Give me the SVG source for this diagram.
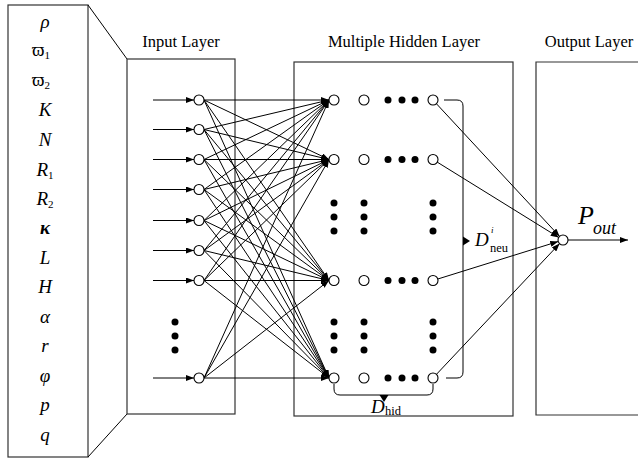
<svg xmlns="http://www.w3.org/2000/svg" width="638" height="466" viewBox="0 0 638 466">
<style>
.box{fill:none;stroke:#333;stroke-width:1.2}
.ln{stroke:#000;stroke-width:1;fill:none}
.nd{fill:#fff;stroke:#000;stroke-width:1.1}
.dt{fill:#000}
.t{font-family:"Liberation Serif","Times New Roman",serif;font-size:16.5px;fill:#000}
.m{font-family:"Liberation Serif","Times New Roman",serif;font-style:italic;font-size:19px;fill:#000}
.u{font-family:"Liberation Serif","Times New Roman",serif;font-size:19px;fill:#000}
.s{font-family:"Liberation Serif","Times New Roman",serif;font-size:11px;font-style:normal;fill:#000}
</style>
<defs>
<marker id="ah" markerWidth="8" markerHeight="6" refX="8" refY="3" orient="auto" markerUnits="userSpaceOnUse"><path d="M0,0 L8,3 L0,6 z" fill="#000"/></marker>
</defs>
<rect width="638" height="466" fill="#fff"/>

<g id="params">
<rect class="box" x="8" y="5" width="80" height="452"/>
<line class="ln" x1="88" y1="5" x2="127" y2="59"/>
<line class="ln" x1="88" y1="457" x2="127" y2="414"/>
<text class="m" x="45" y="28" text-anchor="middle">ρ</text>
<text class="u" x="41" y="56" text-anchor="middle">ϖ<tspan class="s" dy="3">1</tspan></text>
<text class="u" x="41" y="86" text-anchor="middle">ϖ<tspan class="s" dy="3">2</tspan></text>
<text class="m" x="45" y="116" text-anchor="middle">K</text>
<text class="m" x="45" y="146" text-anchor="middle">N</text>
<text class="m" x="45" y="176" text-anchor="middle">R<tspan class="s" dy="3">1</tspan></text>
<text class="m" x="45" y="205" text-anchor="middle">R<tspan class="s" dy="3">2</tspan></text>
<text class="m" x="45" y="234" text-anchor="middle" style="font-weight:bold">κ</text>
<text class="m" x="45" y="264" text-anchor="middle">L</text>
<text class="m" x="45" y="293" text-anchor="middle">H</text>
<text class="m" x="45" y="323" text-anchor="middle">α</text>
<text class="m" x="45" y="352" text-anchor="middle">r</text>
<text class="m" x="45" y="382" text-anchor="middle">φ</text>
<text class="m" x="45" y="411" text-anchor="middle">p</text>
<text class="m" x="45" y="441" text-anchor="middle">q</text>
</g>

<g id="input-layer">
<rect class="box" x="127" y="59" width="108" height="355"/>
<text class="t" x="181" y="47" text-anchor="middle">Input Layer</text>
<circle class="dt" cx="175" cy="322" r="3.5"/>
<circle class="dt" cx="175" cy="336" r="3.5"/>
<circle class="dt" cx="175" cy="350" r="3.5"/>
</g>

<g id="hidden-layer">
<rect class="box" x="294" y="62" width="219" height="354"/>
<text class="t" x="404" y="47" text-anchor="middle">Multiple Hidden Layer</text>
<g class="dt">
<circle cx="388" cy="100" r="3.5"/><circle cx="402" cy="100" r="3.5"/><circle cx="415" cy="100" r="3.5"/>
<circle cx="388" cy="159.5" r="3.5"/><circle cx="402" cy="159.5" r="3.5"/><circle cx="415" cy="159.5" r="3.5"/>
<circle cx="388" cy="280.5" r="3.5"/><circle cx="402" cy="280.5" r="3.5"/><circle cx="415" cy="280.5" r="3.5"/>
<circle cx="388" cy="378" r="3.5"/><circle cx="402" cy="378" r="3.5"/><circle cx="415" cy="378" r="3.5"/>
<circle cx="334" cy="203" r="3.5"/><circle cx="334" cy="217" r="3.5"/><circle cx="334" cy="231" r="3.5"/>
<circle cx="364" cy="203" r="3.5"/><circle cx="364" cy="217" r="3.5"/><circle cx="364" cy="231" r="3.5"/>
<circle cx="433" cy="203" r="3.5"/><circle cx="433" cy="217" r="3.5"/><circle cx="433" cy="231" r="3.5"/>
<circle cx="334" cy="322" r="3.5"/><circle cx="334" cy="336" r="3.5"/><circle cx="334" cy="350" r="3.5"/>
<circle cx="364" cy="322" r="3.5"/><circle cx="364" cy="336" r="3.5"/><circle cx="364" cy="350" r="3.5"/>
<circle cx="433" cy="322" r="3.5"/><circle cx="433" cy="336" r="3.5"/><circle cx="433" cy="350" r="3.5"/>
</g>
<path class="ln" d="M444,100 H457 Q463,100 463,106 V372 Q463,378 457,378 H446"/>
<path d="M463,236.5 L470,241 L463,245.5 z" fill="#000"/>
<text class="m" x="475" y="246">D</text>
<text class="s" x="491" y="233" style="font-style:italic;font-size:9px">i</text>
<text class="s" x="490" y="252" style="font-size:12.5px">neu</text>
<path class="ln" d="M334,384 V389 Q334,395 340,395 H427 Q433,395 433,389 V384"/>
<path d="M379.5,395 L384,402 L388.5,395 z" fill="#000"/>
<text class="m" x="371" y="413">D</text>
<text class="s" x="385" y="415" style="font-size:12.5px">hid</text>
</g>

<g id="output-layer">
<path class="box" d="M640,62 H536 V415 H640"/>
<text class="t" x="589" y="47" text-anchor="middle">Output Layer</text>
<text class="m" x="578" y="224" style="font-size:26px">P</text>
<text class="m" x="593" y="234" style="font-size:18px">out</text>
</g>

<g id="connectors" class="ln" marker-end="url(#ah)">
<line x1="153" y1="100" x2="194" y2="100"/>
<line x1="153" y1="129.5" x2="194" y2="129.5"/>
<line x1="153" y1="159.5" x2="194" y2="159.5"/>
<line x1="153" y1="189.5" x2="194" y2="189.5"/>
<line x1="153" y1="220.5" x2="194" y2="220.5"/>
<line x1="153" y1="250.5" x2="194" y2="250.5"/>
<line x1="153" y1="280.5" x2="194" y2="280.5"/>
<line x1="153" y1="378" x2="194" y2="378"/>

<line x1="204" y1="100" x2="329" y2="100"/>
<line x1="204" y1="100" x2="329" y2="159.5"/>
<line x1="204" y1="100" x2="329" y2="280.5"/>
<line x1="204" y1="100" x2="329" y2="378"/>
<line x1="204" y1="129.5" x2="329" y2="100"/>
<line x1="204" y1="129.5" x2="329" y2="159.5"/>
<line x1="204" y1="129.5" x2="329" y2="280.5"/>
<line x1="204" y1="129.5" x2="329" y2="378"/>
<line x1="204" y1="159.5" x2="329" y2="100"/>
<line x1="204" y1="159.5" x2="329" y2="159.5"/>
<line x1="204" y1="159.5" x2="329" y2="280.5"/>
<line x1="204" y1="159.5" x2="329" y2="378"/>
<line x1="204" y1="189.5" x2="329" y2="100"/>
<line x1="204" y1="189.5" x2="329" y2="159.5"/>
<line x1="204" y1="189.5" x2="329" y2="280.5"/>
<line x1="204" y1="189.5" x2="329" y2="378"/>
<line x1="204" y1="220.5" x2="329" y2="100"/>
<line x1="204" y1="220.5" x2="329" y2="159.5"/>
<line x1="204" y1="220.5" x2="329" y2="280.5"/>
<line x1="204" y1="220.5" x2="329" y2="378"/>
<line x1="204" y1="250.5" x2="329" y2="100"/>
<line x1="204" y1="250.5" x2="329" y2="159.5"/>
<line x1="204" y1="250.5" x2="329" y2="280.5"/>
<line x1="204" y1="250.5" x2="329" y2="378"/>
<line x1="204" y1="280.5" x2="329" y2="100"/>
<line x1="204" y1="280.5" x2="329" y2="159.5"/>
<line x1="204" y1="280.5" x2="329" y2="280.5"/>
<line x1="204" y1="280.5" x2="329" y2="378"/>
<line x1="204" y1="378" x2="329" y2="100"/>
<line x1="204" y1="378" x2="329" y2="159.5"/>
<line x1="204" y1="378" x2="329" y2="280.5"/>
<line x1="204" y1="378" x2="329" y2="378"/>

<line x1="436.4" y1="103.7" x2="559.6" y2="236.4"/>
<line x1="437.2" y1="162.1" x2="558.7" y2="237.4"/>
<line x1="437.8" y1="279" x2="558.2" y2="241.5"/>
<line x1="436.4" y1="374.4" x2="559.6" y2="243.6"/>
<line x1="568" y1="240" x2="628" y2="240"/>
</g>

<g id="nodes">
<circle class="nd" cx="199" cy="100" r="5"/>
<circle class="nd" cx="199" cy="129.5" r="5"/>
<circle class="nd" cx="199" cy="159.5" r="5"/>
<circle class="nd" cx="199" cy="189.5" r="5"/>
<circle class="nd" cx="199" cy="220.5" r="5"/>
<circle class="nd" cx="199" cy="250.5" r="5"/>
<circle class="nd" cx="199" cy="280.5" r="5"/>
<circle class="nd" cx="199" cy="378" r="5"/>
<circle class="nd" cx="334" cy="100" r="5"/><circle class="nd" cx="364" cy="100" r="5"/><circle class="nd" cx="433" cy="100" r="5"/>
<circle class="nd" cx="334" cy="159.5" r="5"/><circle class="nd" cx="364" cy="159.5" r="5"/><circle class="nd" cx="433" cy="159.5" r="5"/>
<circle class="nd" cx="334" cy="280.5" r="5"/><circle class="nd" cx="364" cy="280.5" r="5"/><circle class="nd" cx="433" cy="280.5" r="5"/>
<circle class="nd" cx="334" cy="378" r="5"/><circle class="nd" cx="364" cy="378" r="5"/><circle class="nd" cx="433" cy="378" r="5"/>
<circle class="nd" cx="563" cy="240" r="5"/>
</g>
</svg>
